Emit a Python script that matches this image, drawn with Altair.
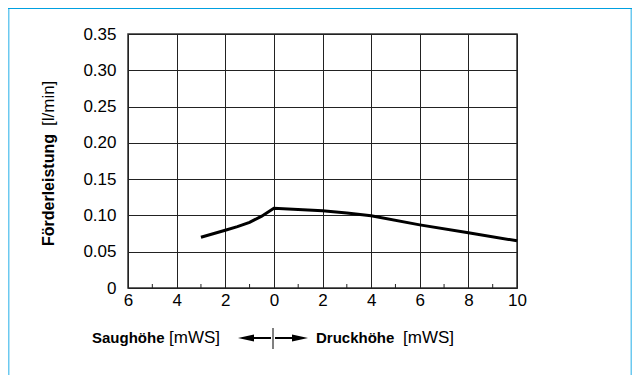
import altair as alt
import pandas as pd

# ---- data ----
head_m = [-3, -2, -1.5, -1, -0.5, 0, 2, 3, 4, 6, 8, 10]
flow_lpm = [0.070, 0.0795, 0.0845, 0.0905, 0.099, 0.110, 0.1065, 0.1035, 0.0995, 0.087, 0.076, 0.065]
x_ticks = [-6, -4, -2, 0, 2, 4, 6, 8, 10]
x_minor = [-5, -3, -1, 1, 3, 5, 7, 9]
y_ticks = [0, 0.05, 0.10, 0.15, 0.20, 0.25, 0.30, 0.35]

FONT = "Liberation Sans"
W, H = 389, 254
PL, PT = 120, 26
CW, CH = 624, 367
PR = CW - PL - W
PB = CH - PT - H
REG = 17
BOLD = 15

df = pd.DataFrame({"h": head_m, "q": flow_lpm})
minor = pd.DataFrame({"h": x_minor})
one = alt.Data(values=[{}])

xs = alt.Scale(domain=[-6, 10], nice=False)
ys = alt.Scale(domain=[0, 0.35], nice=False)

line = alt.Chart(df).mark_line(color="black", strokeWidth=3).encode(
    x=alt.X("h:Q", scale=xs, title=None,
            axis=alt.Axis(values=x_ticks, labelExpr="abs(datum.value)", grid=True,
                          gridColor="#222", gridWidth=1, ticks=False, domain=False,
                          labelPadding=4, labelFontSize=REG, labelFont=FONT,
                          labelColor="black", labelFlush=False)),
    y=alt.Y("q:Q", scale=ys, title=None,
            axis=alt.Axis(values=y_ticks,
                          labelExpr="datum.value == 0 ? '0' : format(datum.value, '.2f')",
                          grid=True, gridColor="#222", gridWidth=1, ticks=False,
                          domain=False, labelPadding=12, labelFontSize=REG,
                          labelFont=FONT, labelColor="black")),
)

ticks = alt.Chart(minor).mark_rule(color="#222", strokeWidth=1).encode(
    x=alt.X("h:Q", scale=xs),
    y=alt.value(H),
    y2=alt.value(H - 4),
)

def rect(x, x2, y, y2, color):
    return alt.Chart(one).mark_rect(color=color).encode(
        x=alt.value(x), x2=alt.value(x2), y=alt.value(y), y2=alt.value(y2))

def txt(s, x, y, bold=False, angle=0, size=None):
    return alt.Chart(one).mark_text(
        text=s, font=FONT, fontSize=size or (BOLD if bold else REG),
        fontWeight="bold" if bold else "normal",
        align="left", baseline="middle", angle=angle, color="black",
    ).encode(x=alt.value(x), y=alt.value(y))

def rule(x, x2, y, y2, w=2):
    return alt.Chart(one).mark_rule(color="black", strokeWidth=w).encode(
        x=alt.value(x), x2=alt.value(x2), y=alt.value(y), y2=alt.value(y2))

def tri(x, y, path):
    return alt.Chart(one).mark_point(shape=path, filled=True, color="black",
                                     opacity=1, size=256, strokeWidth=0).encode(
        x=alt.value(x), y=alt.value(y))

header = rect(-PL, CW - PL, -PT, -PT + 1, "#00A0E0")
lborder = rect(-PL, -PL + 1.5, -PT + 1, CH - PT, "#6CC9F0")
rborder = rect(CW - PL - 1.5, CW - PL, -PT + 1, CH - PT, "#6CC9F0")

ty = 304
LEFT_HEAD = "M -1 0 L 1 -0.45 L 1 0.45 Z"
RIGHT_HEAD = "M 1 0 L -1 -0.45 L -1 0.45 Z"
titles = [
    txt("Saughöhe", -36, ty, bold=True),
    txt("[mWS]", 41, ty),
    txt("Druckhöhe", 188, ty, bold=True),
    txt("[mWS]", 275, ty),
    txt("Förderleistung", -79, 212, bold=True, angle=270, size=16),
    txt("[l/min]", -79, 92, angle=270),
    rule(124, 143, ty, ty),
    rule(145, 145, ty - 10, ty + 11, w=1),
    rule(147, 166, ty, ty),
    tri(118, ty, LEFT_HEAD),
    tri(172, ty, RIGHT_HEAD),
]

chart = alt.layer(header, lborder, rborder, line, ticks, *titles).properties(
    width=W, height=H,
    autosize=alt.AutoSizeParams(type="none"),
    padding={"left": PL, "top": PT, "right": PR, "bottom": PB},
    background="white",
).configure_view(stroke="#333", strokeWidth=1.5)

chart.save("out.html", embed_options={"renderer": "svg", "actions": False})
